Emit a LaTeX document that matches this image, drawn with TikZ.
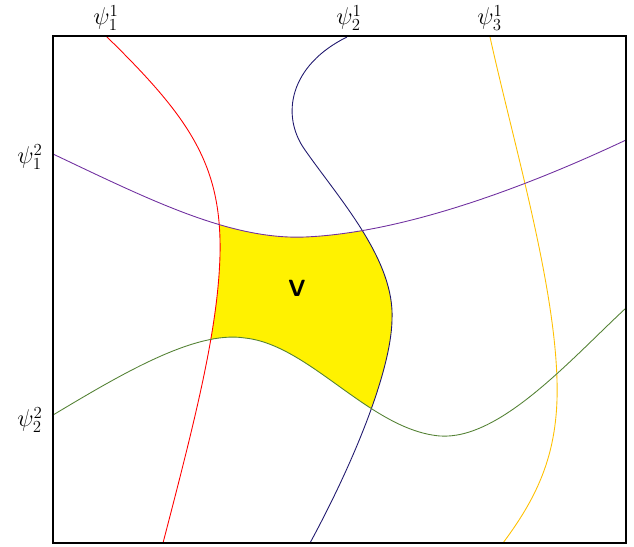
\documentclass[tikz,border=0pt]{standalone}
\usetikzlibrary{calc}

\definecolor{psired}{RGB}{255,0,0}
\definecolor{psinavy}{RGB}{32,24,110}
\definecolor{psigold}{RGB}{255,192,0}
\definecolor{psipurple}{RGB}{112,48,160}
\definecolor{psigreen}{RGB}{84,130,53}

% the four curves that bound V, in pixel units
\newcommand\curveRed{(106,36) .. controls (190,118) and (222,165) .. (220,255) .. controls (218,330) and (195,420) .. (163,543)}
\newcommand\curveNavy{(347,37) .. controls (290,65) and (280,115) .. (305,150) .. controls (340,200) and (395,260) .. (392,320) .. controls (391,370) and (355,460) .. (310,543)}
\newcommand\curveGold{(490,37) .. controls (515,150) and (560,300) .. (557,400) .. controls (555,460) and (535,500) .. (503,543)}
\newcommand\curvePurple{(53,154) .. controls (150,200) and (230,240) .. (305,237) .. controls (400,233) and (520,190) .. (626,140)}
\newcommand\curveGreen{(53,415) .. controls (120,375) and (195,330) .. (245,338) .. controls (310,345) and (370,430) .. (440,436) .. controls (500,440) and (570,360) .. (626,308)}

\begin{document}
\begin{tikzpicture}[x=0.03cm, y=-0.03cm,
    curve/.style={line width=0.75pt},
    psilabel/.style={font=\fontsize{21}{25}\selectfont, inner sep=1pt}]
    \useasboundingbox (0,0) rectangle (634,546);
    % region V
    \begin{scope}
      \clip \curveRed -- (634,546) -- (634,0) -- cycle;
      \clip \curvePurple -- (634,546) -- (0,546) -- cycle;
      \clip \curveGreen -- (634,0) -- (0,0) -- cycle;
      \clip \curveNavy -- (0,546) -- (0,0) -- cycle;
      \fill[yellow] (0,0) rectangle (634,546);
    \end{scope}
    \draw[curve, psired] \curveRed;
    \draw[curve, psinavy] \curveNavy;
    \draw[curve, psigold] \curveGold;
    \draw[curve, psipurple] \curvePurple;
    \draw[curve, psigreen] \curveGreen;
    \draw[line width=1pt] (53,36) rectangle (626,543);
    \node[font=\fontsize{20}{24}\selectfont\sffamily\bfseries] (V) at (297,288) {V};
    \node[psilabel] (p11) at (106,18) {$\psi_1^1$};
    \node[psilabel] (p21) at (349,18) {$\psi_2^1$};
    \node[psilabel] (p31) at (490,18) {$\psi_3^1$};
    \node[psilabel] (p12) at (30,157) {$\psi_1^2$};
    \node[psilabel] (p22) at (30,420) {$\psi_2^2$};
\end{tikzpicture}
\end{document}
